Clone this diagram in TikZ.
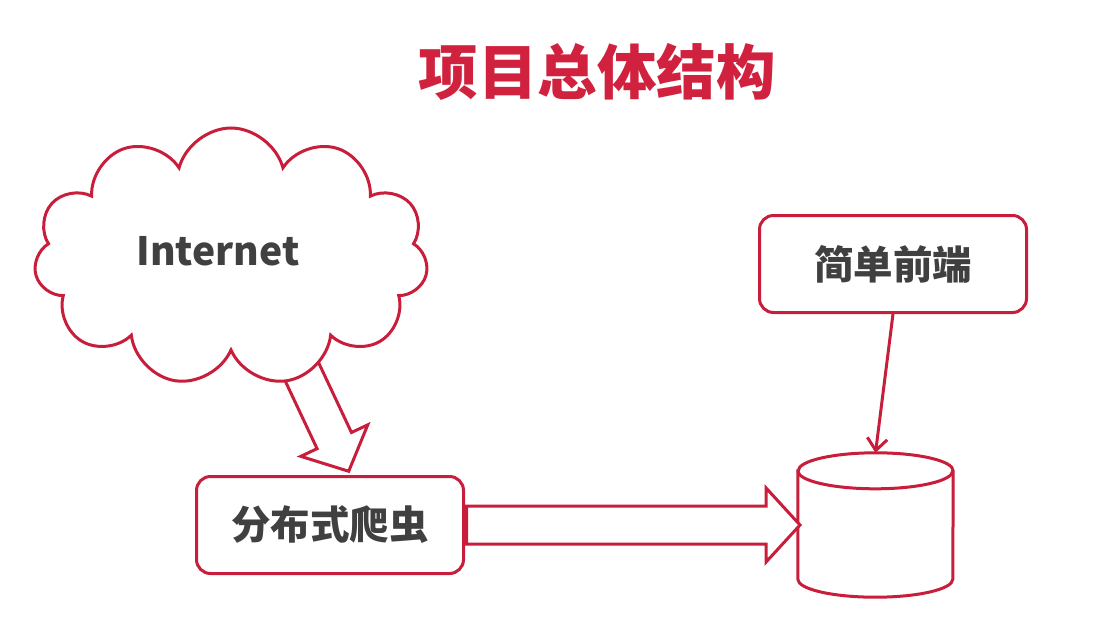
\documentclass[tikz,border=0pt]{standalone}
\usepackage{fontspec}
\setmainfont{Noto Sans CJK SC}
\usetikzlibrary{shapes.symbols,shapes.arrows,arrows.meta,backgrounds,calc}
\definecolor{crimson}{RGB}{200,30,60}
\definecolor{titlered}{RGB}{208,33,62}
\definecolor{textgray}{RGB}{64,64,64}
\tikzset{
	outline/.style={draw=crimson, line width=3pt, fill=white},
	box/.style={outline, rounded corners=14pt, minimum width=267, minimum height=97, text=textgray, font=\fontsize{39.5}{47}\selectfont\bfseries},
	fatarrow/.style={single arrow, outline, inner sep=0pt, inner ysep=17.5pt, single arrow head extend=18pt, single arrow tip angle=95, anchor=tail},
	thinarrow/.style={draw=crimson, line width=3pt, -{Straight Barb[length=12pt, width=20pt]}},
}
\begin{document}
\begin{tikzpicture}[x=1pt,y=-1pt]
	\useasboundingbox (0,0) rectangle (1096,635);
	\node (title) at (597,72) [text=titlered, font=\fontsize{59.5}{70}\selectfont\bfseries] {项目总体结构};
	\node (net) at (231,257) [cloud, cloud puffs=11, cloud ignores aspect, outline, minimum width=394, minimum height=258,
		label={[text=textgray, font=\fontsize{39}{47}\selectfont\bfseries, xshift=-13pt, yshift=6pt]center:Internet}] {};
	\node (crawler) at (330,525) [box] {分布式爬虫};
	\node (front) at (893,264) [box] {简单前端};
	\node (db) at (875.5,525) [minimum width=155, minimum height=144, inner sep=0pt] {};
	\draw [outline] ($(db.north west)+(0,18)$) -- ($(db.south west)+(0,-18)$) arc[start angle=180, end angle=0, x radius=77.5, y radius=18]
		-- ($(db.north east)+(0,18)$) arc[start angle=0, end angle=-180, x radius=77.5, y radius=18] -- cycle;
	\draw [outline, fill=none] ($(db.north west)+(0,18)$) arc[start angle=180, end angle=0, x radius=77.5, y radius=18];
	\begin{scope}[on background layer]
		\node (pull) at (294,355) [fatarrow, rotate=-64.8, minimum height=127] {};
	\end{scope}
	\node (store) at (crawler.east) [fatarrow, minimum height=333.5] {};
	\draw (front.south) [thinarrow] -- (db.north);
\end{tikzpicture}
\end{document}
